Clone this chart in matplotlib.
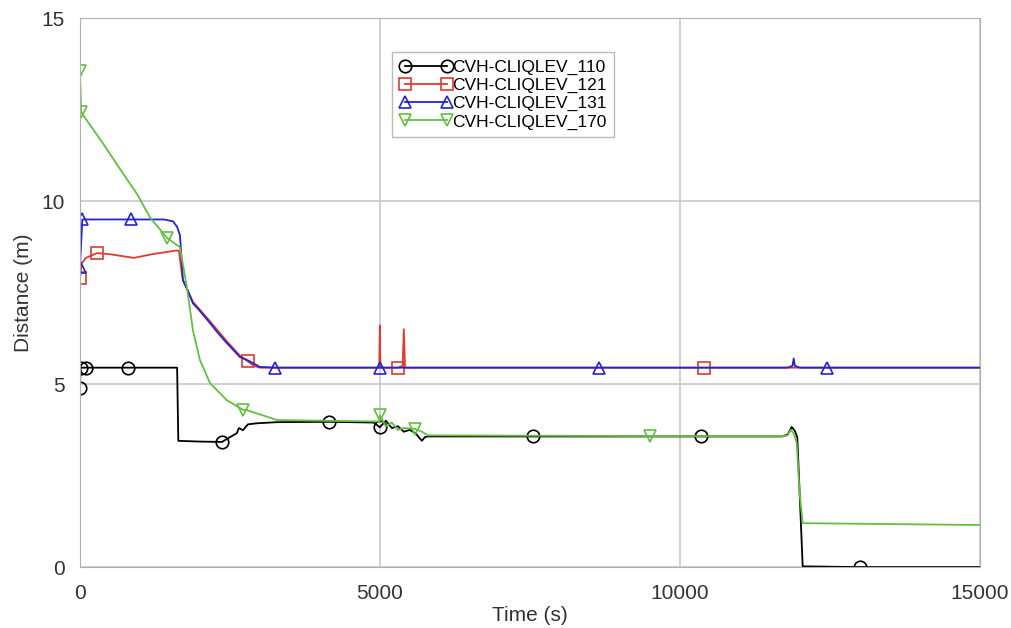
import matplotlib.pyplot as plt
import numpy as np

plt.rcParams['font.family'] = ['Liberation Sans', 'DejaVu Sans']

# CVH-CLIQLEV_110
t110 = [0, 10, 100, 800, 1620, 1640, 2000, 2367, 2500, 2617, 2650, 2717, 2800, 2950, 3283,
        4150, 4900, 5000, 5100, 5200, 5300, 5400, 5500, 5600, 5700, 5750, 5800, 7550,
        10350, 11700, 11800, 11867, 11920, 11960, 12000, 12050, 13000, 15000]
v110 = [4.9, 5.45, 5.45, 5.45, 5.45, 3.45, 3.43, 3.42, 3.55, 3.66, 3.8, 3.74, 3.9, 3.93, 3.96,
        3.97, 3.95, 3.82, 4.0, 3.8, 3.85, 3.7, 3.75, 3.65, 3.45, 3.55, 3.57, 3.57,
        3.57, 3.57, 3.62, 3.83, 3.72, 3.55, 2.0, 0.02, 0.0, 0.0]
m110 = [0, 10, 100, 800, 2367, 4150, 5000, 7550, 10350, 13000]

# CVH-CLIQLEV_121
t121 = [0, 1, 30, 100, 283, 500, 900, 1200, 1600, 1650, 1700, 1717, 1883, 2167, 2450, 2667,
        2800, 2900, 3000, 4990, 5000, 5010, 5300, 5380, 5400, 5420, 10400, 15000]
v121 = [7.45, 7.9, 8.3, 8.45, 8.58, 8.55, 8.45, 8.55, 8.65, 8.65, 8.0, 7.84, 7.25, 6.72, 6.17, 5.78,
        5.62, 5.5, 5.45, 5.45, 6.6, 5.45, 5.45, 5.5, 6.5, 5.45, 5.45, 5.45]
m121 = [1, 283, 2800, 5300, 10400]

# CVH-CLIQLEV_131
t131 = [0, 40, 60, 850, 1400, 1550, 1620, 1667, 1700, 1717, 1800, 1883, 2000, 2167, 2300, 2450,
        2667, 2800, 3000, 3250, 5000, 8650, 11800, 11880, 11900, 11920, 12000, 12450, 15000]
v131 = [8.2, 9.5, 9.5, 9.5, 9.5, 9.45, 9.3, 9.07, 8.3, 7.84, 7.55, 7.21, 7.0, 6.67, 6.4, 6.12,
        5.74, 5.65, 5.47, 5.45, 5.45, 5.45, 5.45, 5.5, 5.7, 5.5, 5.45, 5.45, 5.45]
m131 = [0, 40, 850, 3250, 5000, 8650, 12450]

# CVH-CLIQLEV_170
t170 = [0, 20, 383, 717, 950, 1167, 1450, 1667, 1783, 1883, 2000, 2167, 2450, 2717, 2783, 3283,
        4000, 4990, 5000, 5100, 5200, 5300, 5400, 5580, 5700, 5800, 9500, 11700, 11800, 11850,
        11900, 11950, 12000, 12050, 15000]
v170 = [13.55, 12.43, 11.58, 10.76, 10.2, 9.56, 9.0, 8.74, 7.65, 6.48, 5.66, 5.03, 4.56, 4.3, 4.29, 4.02,
        4.0, 3.98, 4.15, 3.85, 3.95, 3.75, 3.8, 3.78, 3.7, 3.6, 3.58, 3.58, 3.6, 3.75,
        3.65, 3.4, 2.0, 1.2, 1.15]
m170 = [0, 20, 1450, 2717, 5000, 5580, 9500]

series = [
    ('CVH-CLIQLEV_110', t110, v110, m110, 'black', 'o'),
    ('CVH-CLIQLEV_121', t121, v121, m121, '#e03a2e', 's'),
    ('CVH-CLIQLEV_131', t131, v131, m131, '#2323d2', '^'),
    ('CVH-CLIQLEV_170', t170, v170, m170, '#62bf42', 'v'),
]

fig = plt.figure(figsize=(10.12, 6.28), dpi=100)
ax = fig.add_axes([0.079, 0.097, 0.889, 0.874])

for nombre, t, v, marcas, color, marcador in series:
    idx = list(np.searchsorted(t, marcas))
    ax.plot(t, v, color=color, linewidth=1.3, marker=marcador, markevery=idx,
            markersize=9, markerfacecolor='none', markeredgecolor=color,
            markeredgewidth=1.2, label=nombre)

ax.set_xlim(0, 15000)
ax.set_ylim(0, 15)
ax.set_xticks([0, 5000, 10000, 15000])
ax.set_yticks([0, 5, 10, 15])
ax.grid(True, color='#c8c8c8', linewidth=1.2)
ax.set_axisbelow(True)
for s in ax.spines.values():
    s.set_color('#b0b0b0')
ax.tick_params(length=0, labelsize=15, colors='#333333')
ax.tick_params(axis='x', pad=12)
ax.tick_params(axis='y', pad=11)
ax.set_xlabel('Time (s)', fontsize=15, color='#333333', labelpad=2)
ax.set_ylabel('Distance (m)', fontsize=15, color='#333333', labelpad=6)

leg = ax.legend(loc='upper left', bbox_to_anchor=(0.347, 0.938), numpoints=2,
                fontsize=12.5, frameon=True, fancybox=False, handlelength=3.0,
                handletextpad=0.0, borderpad=0.45, labelspacing=0.16, borderaxespad=0)
leg.get_frame().set_edgecolor('#aaaaaa')
leg.get_frame().set_linewidth(1.0)

fig.savefig('out.png', dpi=100)
